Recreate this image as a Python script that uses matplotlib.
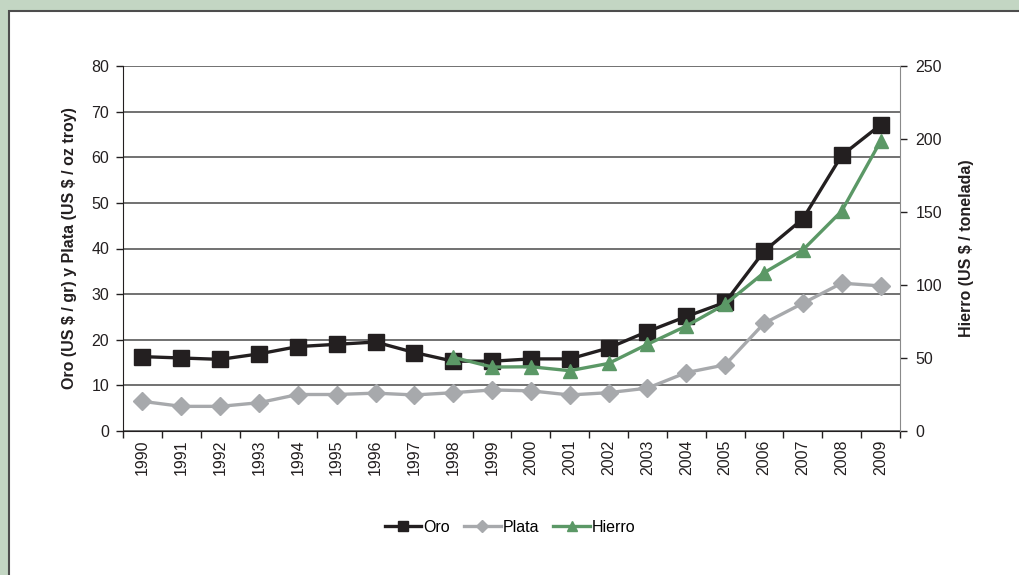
import matplotlib
matplotlib.use("Agg")
import matplotlib.pyplot as plt
from matplotlib.patches import Rectangle
import numpy as np

plt.rcParams['font.family'] = ['Liberation Sans', 'DejaVu Sans']

years = [str(y) for y in range(1990, 2010)]
oro = [16.3, 16.0, 15.7, 16.9, 18.5, 19.0, 19.5, 17.2, 15.3, 15.3,
       15.8, 15.8, 18.2, 21.8, 25.1, 28.2, 39.4, 46.5, 60.4, 67.1]
plata = [6.5, 5.4, 5.4, 6.2, 8.0, 8.0, 8.3, 7.9, 8.4, 9.0,
         8.8, 7.9, 8.4, 9.4, 12.8, 14.5, 23.6, 28.0, 32.4, 31.8]
hierro_years = years[8:]
hierro = [50.5, 43.8, 44.0, 41.3, 46.3, 59.4, 71.9, 86.8, 108.4, 124.0, 150.7, 198.5]

c_oro = '#231f20'
c_plata = '#a7a9ac'
c_hierro = '#5b9866'
c_text = '#231f20'
fs = 11.5

fig = plt.figure(figsize=(10.2, 5.75), dpi=100)
fig.patch.set_facecolor('#c3d6c3')
panel = Rectangle((9 / 1020, -0.05), 1.1, (575 - 10.5) / 575 + 0.05, transform=fig.transFigure,
                  facecolor='white', edgecolor='#4d4d4d', linewidth=1.5, zorder=-10)
fig.patches.append(panel)

ax = fig.add_axes([123 / 1020, 1 - 431 / 575, (900 - 123) / 1020, (431 - 66) / 575])
ax.set_facecolor('none')
x = np.arange(len(years))
xh = np.arange(8, len(years))

ax.plot(x, oro, color=c_oro, lw=2.4, marker='s', ms=11, label='Oro', zorder=3)
ax.plot(x, plata, color=c_plata, lw=2.4, marker='D', ms=9, label='Plata', zorder=2)

ax.set_ylim(0, 80)
ax.set_yticks(range(0, 81, 10))
ax.set_xlim(-0.5, len(years) - 0.5)
ax.set_xticks(x)
ax.set_xticklabels(years, rotation=90, fontsize=fs, color=c_text)
ax.set_xticks(np.arange(-0.5, len(years), 1.0), minor=True)
ax.tick_params(axis='x', which='major', length=0, pad=6)
ax.tick_params(axis='x', which='minor', length=5, width=1, color=c_text, direction='out')
ax.tick_params(axis='y', labelsize=fs, length=5, width=1, color=c_text, labelcolor=c_text, pad=5)
ax.yaxis.grid(True, color='#4a4a4a', lw=1.1)
ax.set_axisbelow(True)
for s in ['top', 'right']:
    ax.spines[s].set_visible(False)
ax.spines['left'].set_color(c_text)
ax.spines['bottom'].set_color(c_text)
ax.set_ylabel(r'Oro (US \$ / gr) y Plata (US \$ / oz troy)', fontsize=fs,
              fontweight='bold', color=c_text, labelpad=10)

ax2 = ax.twinx()
ax2.plot(xh, hierro, color=c_hierro, lw=2.4, marker='^', ms=10, label='Hierro', zorder=4)
ax2.set_ylim(0, 250)
ax2.set_yticks(range(0, 251, 50))
ax2.tick_params(axis='y', labelsize=fs, length=5, width=1, color=c_text, labelcolor=c_text, pad=6)
for s in ['top', 'left', 'bottom']:
    ax2.spines[s].set_visible(False)
ax2.spines['right'].set_color('#8a8a8a')
ax2.set_ylabel(r'Hierro (US \$ / tonelada)', fontsize=fs, fontweight='bold',
               color=c_text, labelpad=12)

h1, l1 = ax.get_legend_handles_labels()
h2, l2 = ax2.get_legend_handles_labels()
fig.legend(h1 + h2, l1 + l2, loc='center', bbox_to_anchor=(510 / 1020, 1 - 527 / 575),
           ncol=3, frameon=False, fontsize=fs, handlelength=2.3, handletextpad=0.1,
           columnspacing=0.9, markerscale=0.65)

fig.savefig('out.png', dpi=100, facecolor=fig.get_facecolor())
